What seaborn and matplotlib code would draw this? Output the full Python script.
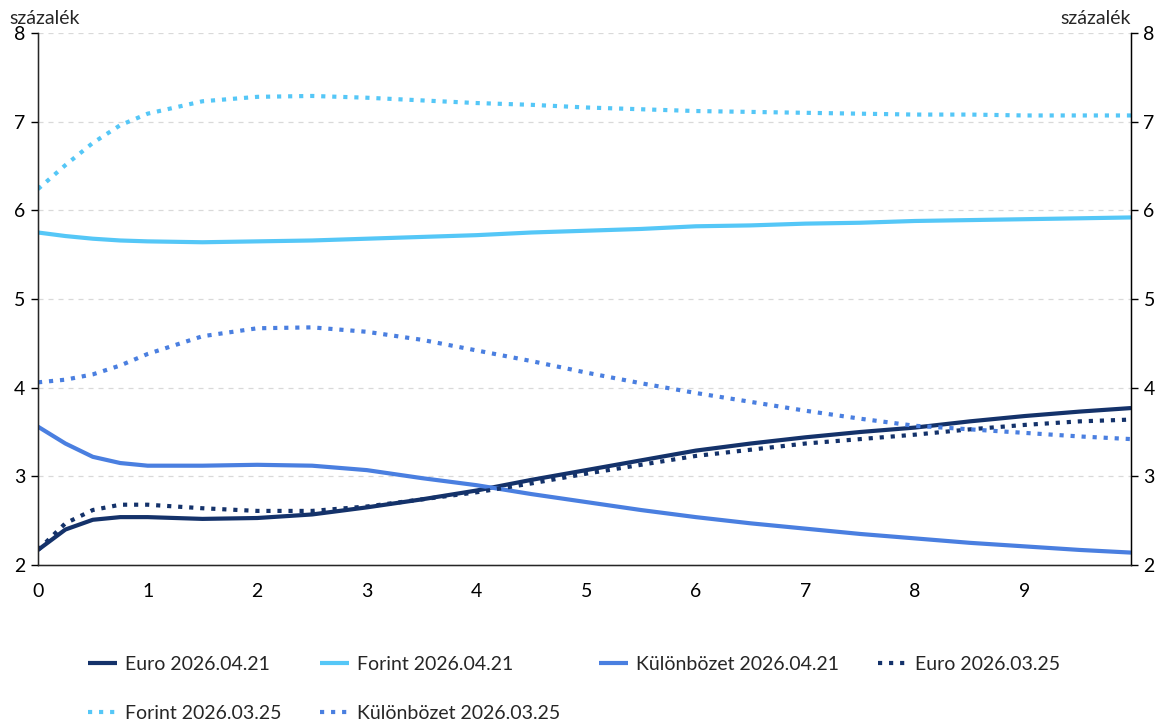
import matplotlib
matplotlib.use("Agg")
import matplotlib.pyplot as plt
import seaborn as sns
import pandas as pd

# ---- data ----
years = [0, 0.25, 0.5, 0.75, 1, 1.5, 2, 2.5, 3, 3.5, 4, 4.5, 5, 5.5, 6, 6.5, 7, 7.5, 8, 8.5, 9, 9.5, 9.97]

euro_0421 = [2.17, 2.40, 2.51, 2.54, 2.54, 2.52, 2.53, 2.57, 2.65, 2.74, 2.84, 2.96, 3.07, 3.18, 3.29, 3.37,
             3.44, 3.50, 3.55, 3.62, 3.68, 3.73, 3.77]
forint_0421 = [5.75, 5.71, 5.68, 5.66, 5.65, 5.64, 5.65, 5.66, 5.68, 5.70, 5.72, 5.75, 5.77, 5.79, 5.82, 5.83,
               5.85, 5.86, 5.88, 5.89, 5.90, 5.91, 5.92]
kulonbozet_0421 = [3.56, 3.37, 3.22, 3.15, 3.12, 3.12, 3.13, 3.12, 3.07, 2.98, 2.90, 2.80, 2.71, 2.62, 2.54, 2.47,
                   2.41, 2.35, 2.30, 2.25, 2.21, 2.17, 2.14]
euro_0325 = [2.17, 2.47, 2.62, 2.68, 2.68, 2.64, 2.61, 2.61, 2.66, 2.74, 2.82, 2.92, 3.03, 3.13, 3.23, 3.30,
             3.37, 3.42, 3.47, 3.53, 3.58, 3.62, 3.64]
forint_0325 = [6.24, 6.51, 6.76, 6.96, 7.09, 7.23, 7.28, 7.29, 7.27, 7.24, 7.21, 7.19, 7.16, 7.14, 7.12, 7.11,
               7.10, 7.09, 7.08, 7.08, 7.07, 7.07, 7.07]
kulonbozet_0325 = [4.06, 4.09, 4.15, 4.25, 4.38, 4.58, 4.67, 4.68, 4.63, 4.54, 4.42, 4.30, 4.17, 4.05, 3.94, 3.84,
                   3.74, 3.65, 3.57, 3.53, 3.49, 3.45, 3.42]

labels = ["Euro 2026.04.21", "Forint 2026.04.21", "Különbözet 2026.04.21",
          "Euro 2026.03.25", "Forint 2026.03.25", "Különbözet 2026.03.25"]
y_ticks = [2, 3, 4, 5, 6, 7, 8]
x_ticks = [0, 1, 2, 3, 4, 5, 6, 7, 8, 9]
unit_label = "százalék"

# ---- style ----
sns.set_style("white")
plt.rcParams["font.family"] = ["Lato", "DejaVu Sans"]

DARK = "#14326a"
LIGHT = "#55c7f7"
MID = "#4a7fe0"
FS = 14

series = [
    (euro_0421, labels[0], DARK, "-"),
    (forint_0421, labels[1], LIGHT, "-"),
    (kulonbozet_0421, labels[2], MID, "-"),
    (euro_0325, labels[3], DARK, ":"),
    (forint_0325, labels[4], LIGHT, ":"),
    (kulonbozet_0325, labels[5], MID, ":"),
]

fig = plt.figure(figsize=(11.6, 7.22), dpi=100)
ax = fig.add_axes([38 / 1160, 1 - 565 / 722, (1131 - 38) / 1160, (565 - 33) / 722])

handles = {}
for vals, lab, col, ls in series:
    df = pd.DataFrame({"x": years, "y": vals})
    sns.lineplot(data=df, x="x", y="y", ax=ax, color=col, linewidth=3.0, label=lab)
    line = ax.get_lines()[-1]
    line.set_linestyle(ls)
    if ls == ":":
        line.set_dash_capstyle("butt")
    line.set_solid_capstyle("butt")
    line.set_solid_joinstyle("round")
    handles[lab] = line

ax.set_xlim(0, 9.97)
ax.set_ylim(2, 8)
ax.set_xticks(x_ticks)
ax.set_yticks(y_ticks)
ax.set_xlabel("")
ax.set_ylabel("")
ax.yaxis.grid(True, linestyle=(0, (4, 4)), color="#d9d9d9", linewidth=0.9)
ax.xaxis.grid(False)
ax.set_axisbelow(True)
ax.spines["top"].set_visible(False)
for s in ["left", "bottom", "right"]:
    ax.spines[s].set_color("black")
    ax.spines[s].set_linewidth(1.0)
ax.tick_params(axis="both", direction="out", length=5, width=1, color="black",
               labelsize=FS, labelcolor="black")
ax.tick_params(axis="x", pad=8)
ax.tick_params(axis="y", pad=4)

ax2 = ax.twinx()
ax2.set_ylim(2, 8)
ax2.set_yticks(y_ticks)
ax2.spines["top"].set_visible(False)
ax2.spines["right"].set_color("black")
ax2.tick_params(axis="y", direction="out", length=5, width=1, color="black",
                labelsize=FS, labelcolor="black", pad=4)
ax2.grid(False)

ax.text(-0.026, 1.012, unit_label, transform=ax.transAxes, ha="left", va="bottom", fontsize=FS)
ax2.text(1.0, 1.012, unit_label, transform=ax.transAxes, ha="right", va="bottom", fontsize=FS)

if ax.get_legend() is not None:
    ax.get_legend().remove()
order = [labels[0], labels[4], labels[1], labels[5], labels[2], labels[3]]
leg = fig.legend([handles[l] for l in order], order, ncol=4, loc="upper center",
                 bbox_to_anchor=(574 / 1160, 1 - 638 / 722), frameon=False, fontsize=FS,
                 handlelength=1.5, handletextpad=0.4, columnspacing=2.0, labelspacing=1.65)

fig.savefig("out.png", dpi=100)
